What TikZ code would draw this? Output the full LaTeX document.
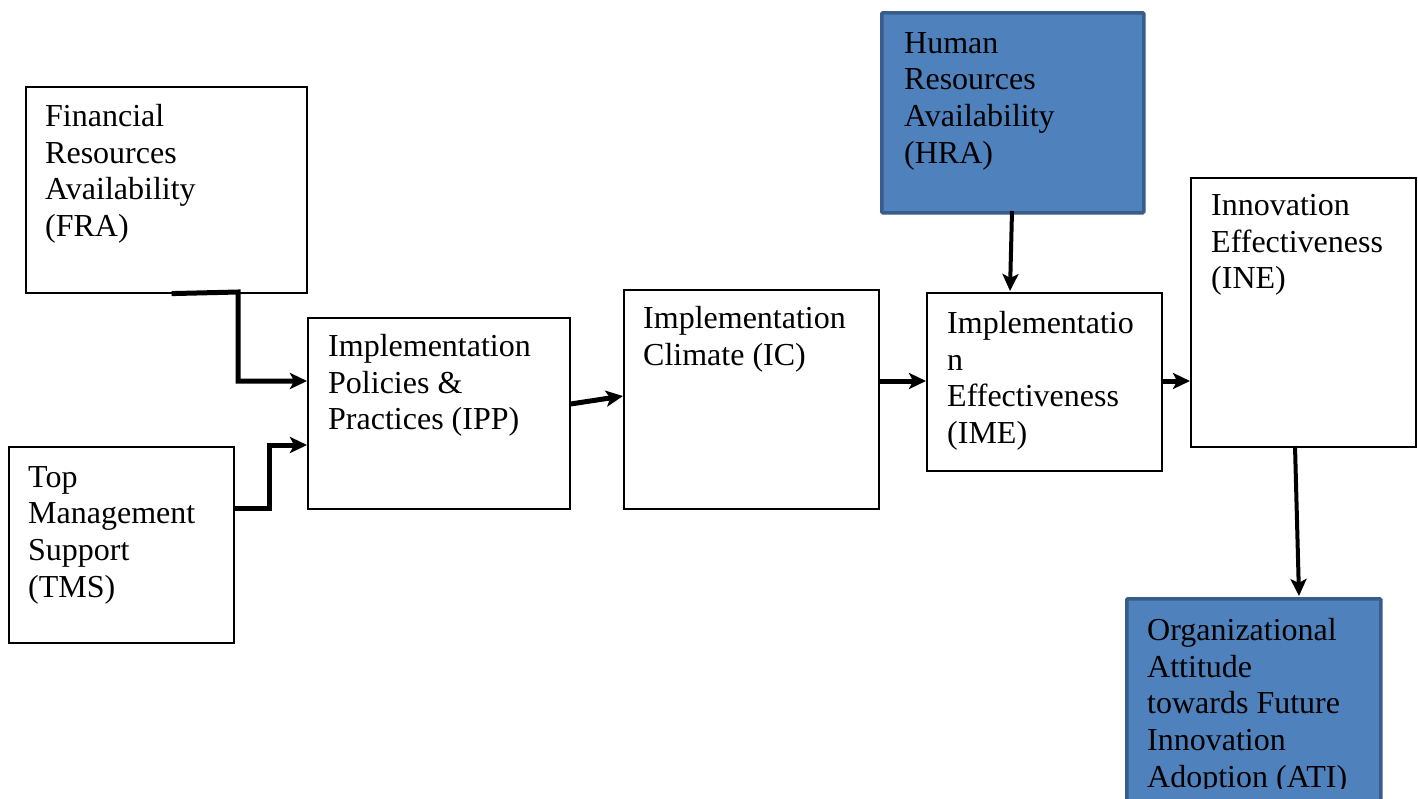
\documentclass[tikz,border=0pt]{standalone}
\usepackage{fontspec}
\setmainfont{Liberation Serif}
\usetikzlibrary{arrows.meta}
\definecolor{boxblue}{HTML}{4F81BD}
\definecolor{boxblueedge}{HTML}{385D8A}
\tikzset{
  wbox/.style={draw=black, line width=1.6pt, fill=white, rectangle, inner sep=0pt},
  bbox/.style={draw=boxblueedge, line width=3.5pt, fill=boxblue, rectangle, inner sep=0pt, rounded corners=1pt},
  txt/.style={anchor=north west, inner sep=0pt, align=left, font=\fontsize{32}{36.7}\selectfont},
  conn/.style={line width=5pt, -{Stealth[length=17pt,width=16pt,inset=4pt]}},
  connthin/.style={line width=4pt, -{Stealth[length=17pt,width=16pt,inset=4pt]}},
}
\begin{document}
\begin{tikzpicture}[x=1pt,y=-1pt]
\useasboundingbox (0,0) rectangle (1418,798);
\clip (0,0) rectangle (1418,798);
\fill[white] (0,0) rectangle (1418,798);
% boxes
\node[wbox, minimum width=281pt, minimum height=206pt, anchor=north west] (fra) at (25,86) {};
\node[wbox, minimum width=225pt, minimum height=196pt, anchor=north west] (tms) at (8,446) {};
\node[wbox, minimum width=262pt, minimum height=191pt, anchor=north west] (ipp) at (307,317) {};
\node[wbox, minimum width=255pt, minimum height=219pt, anchor=north west] (ic) at (623,289) {};
\node[bbox, minimum width=262pt, minimum height=200pt, anchor=north west] (hra) at (880,11) {};
\node[wbox, minimum width=235pt, minimum height=178pt, anchor=north west] (ime) at (926,292) {};
\node[wbox, minimum width=225pt, minimum height=269pt, anchor=north west] (ine) at (1190,177) {};
\node[bbox, minimum width=254pt, minimum height=240pt, anchor=north west] (ati) at (1125,597) {};
% texts
\node[txt] (fraT) at (45,104) {Financial\\Resources\\Availability\\(FRA)};
\node[txt] (tmsT) at (28,466) {Top\\Management\\Support\\(TMS)};
\node[txt] (ippT) at (328,334) {Implementation\\Policies \&\\Practices (IPP)};
\node[txt] (icT) at (643,306) {Implementation\\Climate (IC)};
\node[txt] (hraT) at (904,32) {Human\\Resources\\Availability\\(HRA)};
\node[txt] (imeT) at (947,311) {Implementatio\\n\\Effectiveness\\(IME)};
\node[txt] (ineT) at (1211,194) {Innovation\\Effectiveness\\(INE)};
\begin{scope}
\clip (0,0) rectangle (1418,788);
\node[txt] (atiT) at (1147,618) {Organizational\\Attitude\\towards Future\\Innovation\\Adoption (ATI)};
\end{scope}
% connectors
\coordinate (fraOut) at ([xshift=-136pt]fra.south east);
\draw[conn] (fraOut) -- (238,292) -- (238,381) -- (ipp.west |- 0,381);
\draw[conn] (tms.east |- 0,508) -- (269,508) -- (269,445) -- (ipp.west |- 0,445);
\draw[conn] (ipp.east |- 0,404) -- (ic.west |- 0,396);
\draw[conn] (ic.east |- 0,381) -- (ime.west |- 0,381);
\draw[conn] (ime.east |- 0,381) -- (ine.west |- 0,381);
\draw[connthin] (1012,211) -- (1010,291);
\draw[connthin] (1295,446) -- (1299,596);
\end{tikzpicture}
\end{document}
